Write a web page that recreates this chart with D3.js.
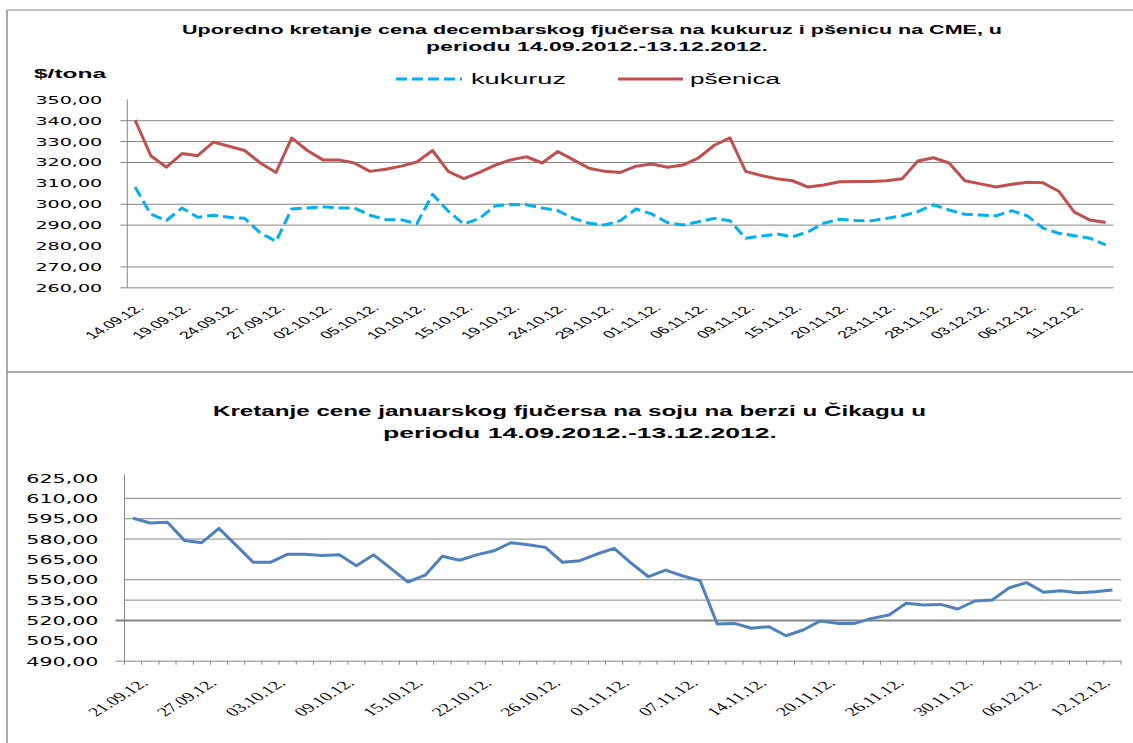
<!DOCTYPE html>
<html lang="sr">
<head>
<meta charset="utf-8">
<title>Kukuruz, pšenica, soja</title>
<script src="https://cdn.jsdelivr.net/npm/d3@7"></script>
<style>
  body { margin: 0; background: #fff; }
</style>
</head>
<body>
<script>
// --- data ---
var datesTop = ["14.09.12.","17.09.12.","18.09.12.","19.09.12.","20.09.12.","21.09.12.","24.09.12.","25.09.12.","26.09.12.","27.09.12.",
  "28.09.12.","01.10.12.","02.10.12.","03.10.12.","04.10.12.","05.10.12.","08.10.12.","09.10.12.","10.10.12.","11.10.12.",
  "12.10.12.","15.10.12.","16.10.12.","18.10.12.","19.10.12.","22.10.12.","23.10.12.","24.10.12.","25.10.12.","26.10.12.",
  "29.10.12.","30.10.12.","31.10.12.","01.11.12.","02.11.12.","05.11.12.","06.11.12.","07.11.12.","08.11.12.","09.11.12.",
  "13.11.12.","14.11.12.","15.11.12.","16.11.12.","19.11.12.","20.11.12.","21.11.12.","22.11.12.","23.11.12.","26.11.12.",
  "27.11.12.","28.11.12.","29.11.12.","30.11.12.","03.12.12.","04.12.12.","05.12.12.","06.12.12.","07.12.12.","10.12.12.",
  "11.12.12.","12.12.12.","13.12.12."];

var kukuruz = [308, 295, 292, 298, 293.5, 294.5, 293.5, 293, 286, 282,
  297.5, 298, 298.5, 298, 298, 294.5, 292.5, 292.3, 290.5, 304.5,
  296.5, 290.3, 293, 299, 299.6, 299.5, 298, 296.7, 293, 290.7,
  289.8, 291.9, 297.5, 295.1, 291, 289.8, 291.4, 293, 291.9, 283.5,
  284.5, 285.5, 284.2, 286.6, 290.7, 292.6, 292, 291.8, 293, 294.2,
  296.2, 299.5, 297, 295, 294.6, 294.2, 296.7, 294.2, 288.3, 285.9,
  284.7, 283.5, 280.3];

var psenica = [340, 323, 317.5, 324, 323, 329.5, 327.5, 325.5, 319.5, 315,
  331.5, 325.5, 321, 321, 319.5, 315.5, 316.5, 318, 320, 325.5,
  315.5, 312, 315, 318.5, 321, 322.5, 319.5, 325, 321, 317,
  315.5, 315, 318, 319, 317.5, 318.5, 322, 328, 331.5, 315.5,
  313.5, 312, 311, 308, 309, 310.5, 310.6, 310.6, 311, 312,
  320.5, 322, 319.5, 311, 309.5, 308, 309.3, 310.3, 310, 306,
  296, 292.2, 291];

var yTicksTop = [260, 270, 280, 290, 300, 310, 320, 330, 340, 350];
// gridlines that do not show in the picture
var noGridTop = [280, 310, 350];

var datesSoja = ["21.09.12.","24.09.12.","25.09.12.","26.09.12.","27.09.12.","28.09.12.","01.10.12.","02.10.12.","03.10.12.","04.10.12.",
  "05.10.12.","08.10.12.","09.10.12.","10.10.12.","11.10.12.","12.10.12.","15.10.12.","16.10.12.","17.10.12.","19.10.12.",
  "22.10.12.","23.10.12.","24.10.12.","25.10.12.","26.10.12.","29.10.12.","30.10.12.","31.10.12.","01.11.12.","02.11.12.",
  "05.11.12.","06.11.12.","07.11.12.","08.11.12.","09.11.12.","13.11.12.","14.11.12.","15.11.12.","16.11.12.","19.11.12.",
  "20.11.12.","21.11.12.","22.11.12.","23.11.12.","26.11.12.","27.11.12.","28.11.12.","29.11.12.","30.11.12.","03.12.12.",
  "04.12.12.","05.12.12.","06.12.12.","07.12.12.","10.12.12.","11.12.12.","12.12.12.","13.12.12."];

var soja = [595, 591.5, 592, 578.5, 577, 587.5, 575, 562.5, 562.5, 568.5,
  568.5, 567.5, 568, 560, 568, 558, 548, 553, 567, 564,
  568, 571, 577, 575.5, 573.5, 562.5, 563.7, 568.6, 572.8, 561.8,
  551.9, 556.8, 552.4, 549, 517, 517.5, 513.9, 515.1, 508.4, 512.6,
  519.3, 517.5, 517.5, 521.2, 523.7, 532.3, 531, 531.5, 528.1, 534,
  534.7, 543.8, 547.5, 540.4, 541.6, 540.1, 540.8, 542.1];

var yTicksSoja = [490, 505, 520, 535, 550, 565, 580, 595, 610, 625];
var noGridSoja = [505, 565, 625];

// --- setup ---
var w = 1133, h = 743;
var grid = "#868686";
var fmt = d3.formatLocale({decimal: ",", thousands: ".", grouping: [3], currency: ["", ""]}).format(".2f");

var svg = d3.select("body").append("svg")
  .attr("width", w)
  .attr("height", h);

// frame
svg.append("line").attr("x1", 7).attr("x2", 7).attr("y1", 10).attr("y2", h)
  .attr("stroke", "#8c8c8c").attr("stroke-width", 1.5);
svg.append("line").attr("x1", 7).attr("x2", w).attr("y1", 10).attr("y2", 10)
  .attr("stroke", "#b0b0b0").attr("stroke-width", 1.5);
svg.append("line").attr("x1", 7).attr("x2", w).attr("y1", 372).attr("y2", 372)
  .attr("stroke", "#8c8c8c").attr("stroke-width", 1.5);

function label(g, x, y, str, size, weight, len) {
  return g.append("text")
    .attr("x", x).attr("y", y)
    .attr("font-family", "Liberation Sans, Arial, sans-serif")
    .attr("font-size", size)
    .attr("font-weight", weight)
    .attr("textLength", len)
    .attr("lengthAdjust", "spacingAndGlyphs")
    .text(str);
}

// ===== top chart: kukuruz & pšenica =====
var gTop = svg.append("g");
var tx0 = 127.3, tx1 = 1113.5, ty0 = 99.3, ty1 = 287.3;

var xTop = d3.scaleBand().domain(d3.range(datesTop.length)).range([tx0, tx1]);
var yTop = d3.scaleLinear().domain([260, 350]).range([ty1, ty0]);
var cx = function(i) { return xTop(i) + xTop.bandwidth() / 2; };

label(gTop, 182, 34, "Uporedno kretanje cena decembarskog fjučersa na kukuruz i pšenicu na CME, u", 12.5, "bold", 820);
label(gTop, 426, 51, "periodu 14.09.2012.-13.12.2012.", 12.5, "bold", 342);
label(gTop, 34, 78, "$/tona", 13, "bold", 72);

// legend
gTop.append("line").attr("x1", 396).attr("x2", 462).attr("y1", 79).attr("y2", 79)
  .attr("stroke", "#00B0F0").attr("stroke-width", 3).attr("stroke-dasharray", "11,5");
label(gTop, 471, 84, "kukuruz", 14, "normal", 95);
gTop.append("line").attr("x1", 618).attr("x2", 683).attr("y1", 79).attr("y2", 79)
  .attr("stroke", "#C0504D").attr("stroke-width", 3);
label(gTop, 690, 84, "pšenica", 14, "normal", 90);

var yAxTop = gTop.append("g")
  .attr("transform", "translate(" + tx0 + ",0)")
  .call(d3.axisLeft(yTop).tickValues(yTicksTop).tickFormat(fmt).tickSize(-(tx1 - tx0)));
yAxTop.select(".domain").remove();
yAxTop.selectAll(".tick line")
  .attr("x1", -7)
  .attr("stroke", grid)
  .attr("stroke-opacity", function(d) { return noGridTop.indexOf(d) < 0 ? 1 : 0; });
yAxTop.selectAll(".tick text")
  .attr("x", 0).attr("dy", "0.36em")
  .attr("transform", "translate(-25,0) scale(1.74,1)")
  .attr("font-family", "DejaVu Sans, Verdana, sans-serif")
  .attr("font-size", 11)
  .attr("fill", "#000");

gTop.append("line").attr("x1", tx0).attr("x2", tx0).attr("y1", ty0).attr("y2", ty1).attr("stroke", grid);

var xAxTop = gTop.append("g")
  .attr("transform", "translate(0," + ty1 + ")")
  .call(d3.axisBottom(xTop).tickValues(d3.range(0, datesTop.length, 3))
    .tickFormat(function(i) { return datesTop[i]; }).tickSize(0));
xAxTop.select(".domain").remove();
xAxTop.selectAll(".tick text")
  .attr("y", 0).attr("dy", "0.71em")
  .attr("text-anchor", "end")
  .attr("transform", "translate(1,16) scale(1.7,1) rotate(-45)")
  .attr("font-family", "Liberation Sans, Arial, sans-serif")
  .attr("font-size", 10.5)
  .attr("fill", "#000");

var lineTop = function(vals) {
  return d3.line().x(function(d, i) { return cx(i); }).y(function(d) { return yTop(d); })(vals);
};

gTop.append("path").attr("d", lineTop(psenica))
  .attr("fill", "none").attr("stroke", "#C0504D").attr("stroke-width", 3)
  .attr("stroke-linejoin", "round");
gTop.append("path").attr("d", lineTop(kukuruz))
  .attr("fill", "none").attr("stroke", "#00B0F0").attr("stroke-width", 3)
  .attr("stroke-dasharray", "11,5").attr("stroke-linejoin", "round");

// ===== bottom chart: soja =====
var gBot = svg.append("g");
var bx0 = 124.5, bx1 = 1121, by0 = 477.5, by1 = 660.7;

var xBot = d3.scaleBand().domain(d3.range(datesSoja.length)).range([bx0, bx1]);
var yBot = d3.scaleLinear().domain([490, 625]).range([by1, by0]);

label(gBot, 213, 416, "Kretanje cene januarskog fjučersa na soju na berzi u Čikagu u", 14, "bold", 713);
label(gBot, 383, 438, "periodu 14.09.2012.-13.12.2012.", 14, "bold", 394);

var yAxBot = gBot.append("g")
  .attr("transform", "translate(" + bx0 + ",0)")
  .call(d3.axisLeft(yBot).tickValues(yTicksSoja).tickFormat(fmt).tickSize(-(bx1 - bx0)));
yAxBot.select(".domain").remove();
yAxBot.selectAll(".tick line")
  .attr("stroke", grid)
  .attr("stroke-opacity", function(d) { return noGridSoja.indexOf(d) < 0 ? 1 : 0; })
  .attr("x1", function(d) { return (d === 520 || d === 490) ? -9 : 0; })
  .attr("stroke-width", function(d) { return d === 520 ? 2 : 1; });
yAxBot.selectAll(".tick text")
  .attr("x", 0).attr("dy", "0.36em")
  .attr("transform", "translate(-26,0) scale(1.65,1)")
  .attr("font-family", "DejaVu Sans, Verdana, sans-serif")
  .attr("font-size", 12.5)
  .attr("fill", "#000");

gBot.append("line").attr("x1", bx0).attr("x2", bx0).attr("y1", by0 - 3).attr("y2", by1).attr("stroke", grid);

// small tick marks between categories
gBot.selectAll("line.cat")
  .data(d3.range(datesSoja.length + 1))
  .enter().append("line")
  .attr("class", "cat")
  .attr("x1", function(i) { return bx0 + i * xBot.step(); })
  .attr("x2", function(i) { return bx0 + i * xBot.step(); })
  .attr("y1", by1).attr("y2", by1 + 4)
  .attr("stroke", grid);

var xAxBot = gBot.append("g")
  .attr("transform", "translate(0," + by1 + ")")
  .call(d3.axisBottom(xBot).tickValues(d3.range(0, datesSoja.length, 4))
    .tickFormat(function(i) { return datesSoja[i]; }).tickSize(0));
xAxBot.select(".domain").remove();
xAxBot.selectAll(".tick text")
  .attr("y", 0).attr("dy", "0.71em")
  .attr("text-anchor", "end")
  .attr("transform", "translate(6,17) scale(1.6,1) rotate(-45)")
  .attr("font-family", "Liberation Serif, Times New Roman, serif")
  .attr("font-size", 12.5)
  .attr("fill", "#000");

gBot.append("path")
  .attr("d", d3.line()
    .x(function(d, i) { return xBot(i) + xBot.bandwidth() / 2; })
    .y(function(d) { return yBot(d); })(soja))
  .attr("fill", "none").attr("stroke", "#4F81BD").attr("stroke-width", 3)
  .attr("stroke-linejoin", "round");
</script>
</body>
</html>
